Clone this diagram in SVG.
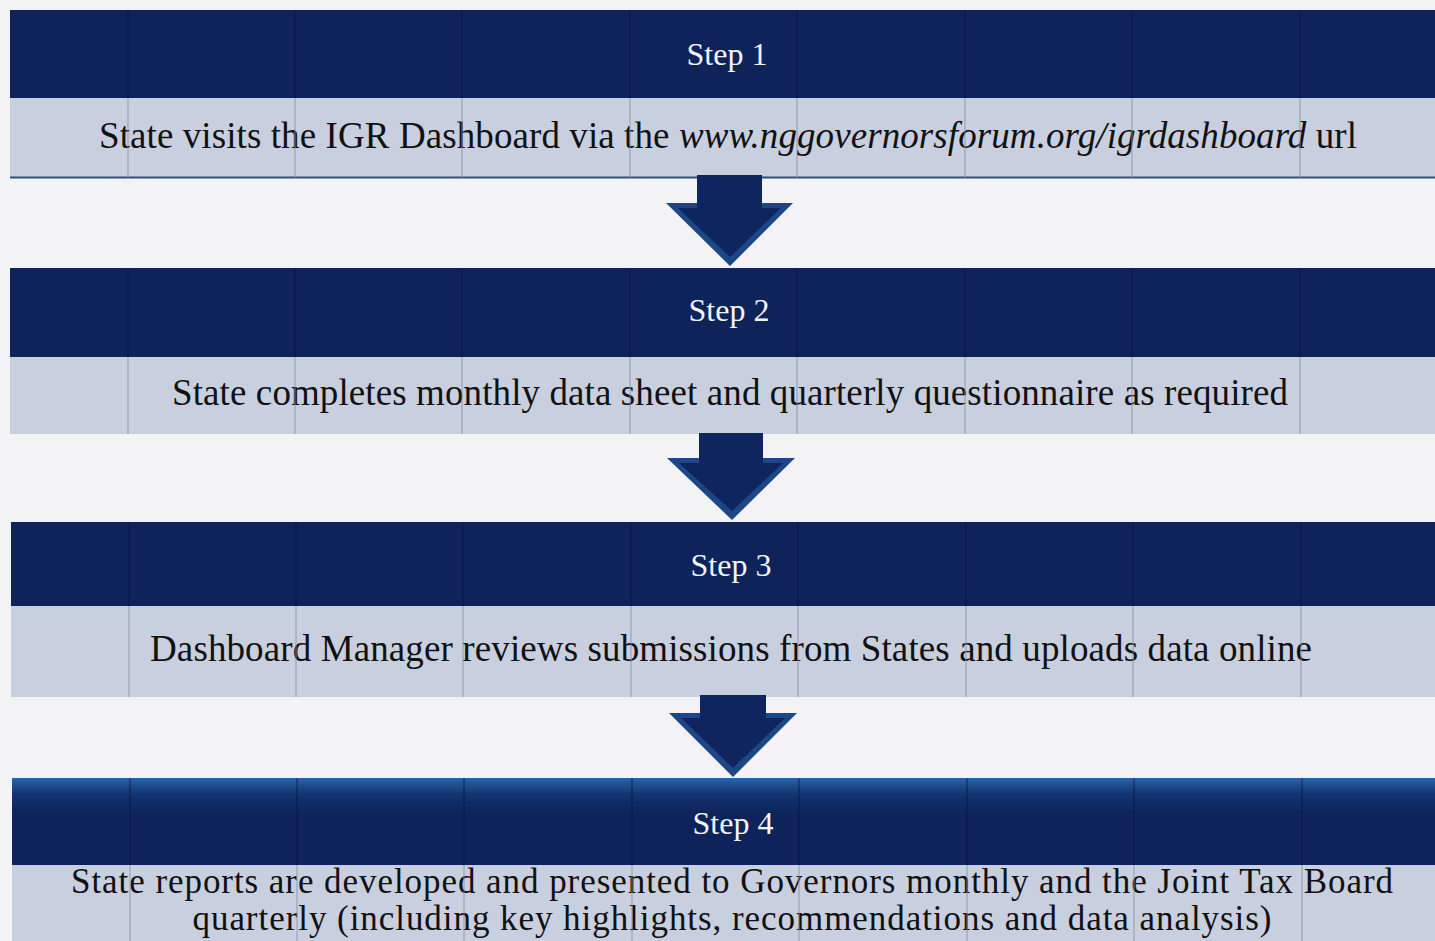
<svg xmlns="http://www.w3.org/2000/svg" width="1435" height="941" viewBox="0 0 1435 941">
<defs>
<style>
.dark{fill:#0f235b}
.light{fill:#c8cfde}
.step{font-family:"Liberation Serif","Times New Roman",serif;font-size:32px;fill:#f2f4fa;text-anchor:middle}
.body{font-family:"Liberation Serif","Times New Roman",serif;font-size:37px;fill:#111;text-anchor:middle}
.body4{font-family:"Liberation Serif","Times New Roman",serif;font-size:35px;fill:#111;text-anchor:middle}
.gridD{stroke:#081540;stroke-width:1.2;opacity:0.6}
.gridL{stroke:#8a91a6;stroke-width:1.2;opacity:0.7}
.arrowOuter{fill:#1d4686}
.arrowInner{fill:#0f2560}
</style>
<linearGradient id="topBevel" x1="0" y1="0" x2="0" y2="1">
<stop offset="0" stop-color="#2a64a6"/>
<stop offset="0.18" stop-color="#123572"/>
<stop offset="0.4" stop-color="#0f235b"/>
<stop offset="1" stop-color="#0f235b"/>
</linearGradient>
</defs>
<rect width="1435" height="941" fill="#f3f2f5"/>

<g id="step1">
<rect class="dark" x="10" y="10" width="1425" height="88"/>
<rect class="light" x="10" y="98" width="1425" height="80"/>
<rect x="10" y="176.5" width="1425" height="2" fill="#2c4f80"/>
<text class="step" x="727" y="65">Step 1</text>
<text class="body" x="728" y="148" textLength="1258" lengthAdjust="spacing">State visits the IGR Dashboard via the <tspan font-style="italic">www.nggovernorsforum.org/igrdashboard</tspan> url</text>
</g>

<g id="step2">
<rect class="dark" x="10" y="268" width="1425" height="89"/>
<rect class="light" x="10" y="357" width="1425" height="77"/>
<text class="step" x="729" y="321">Step 2</text>
<text class="body" x="730" y="405" textLength="1116" lengthAdjust="spacing">State completes monthly data sheet and quarterly questionnaire as required</text>
</g>

<g id="step3">
<rect class="dark" x="11" y="522" width="1424" height="84"/>
<rect class="light" x="11" y="606" width="1424" height="91"/>
<text class="step" x="731" y="576">Step 3</text>
<text class="body" x="731" y="661" textLength="1162" lengthAdjust="spacing">Dashboard Manager reviews submissions from States and uploads data online</text>
</g>

<g id="step4">
<rect x="12" y="778" width="1423" height="87" fill="url(#topBevel)"/>
<rect class="light" x="12" y="865" width="1423" height="76"/>
<text class="step" x="733" y="834">Step 4</text>
<text class="body4" x="732" y="893" textLength="1322" lengthAdjust="spacing">State reports are developed and presented to Governors monthly and the Joint Tax Board</text>
<text class="body4" x="732" y="930" textLength="1079" lengthAdjust="spacing">quarterly (including key highlights, recommendations and data analysis)</text>
</g>

<g id="grid">
<path class="gridD" d="M128 10V98M295 10V98M462 10V98M630 10V98M797 10V98M965 10V98M1132 10V98M1300 10V98"/>
<path class="gridL" d="M128 98V178M295 98V178M462 98V178M630 98V178M797 98V178M965 98V178M1132 98V178M1300 98V178"/>
<path class="gridD" d="M128 268V357M295 268V357M462 268V357M630 268V357M797 268V357M965 268V357M1132 268V357M1300 268V357"/>
<path class="gridL" d="M128 357V434M295 357V434M462 357V434M630 357V434M797 357V434M965 357V434M1132 357V434M1300 357V434"/>
<path class="gridD" d="M129 522V606M296 522V606M463 522V606M631 522V606M798 522V606M966 522V606M1133 522V606M1301 522V606"/>
<path class="gridL" d="M129 606V697M296 606V697M463 606V697M631 606V697M798 606V697M966 606V697M1133 606V697M1301 606V697"/>
<path class="gridD" d="M130 778V865M297 778V865M464 778V865M632 778V865M799 778V865M967 778V865M1134 778V865M1302 778V865"/>
<path class="gridL" d="M130 865V941M297 865V941M464 865V941M632 865V941M799 865V941M967 865V941M1134 865V941M1302 865V941"/>
</g>

<g id="connectors">
<polygon class="arrowOuter" points="697,175 762,175 762,203 793,203 730,266 666,203 697,203"/>
<polygon class="arrowInner" points="697,175 762,175 762,208 781,208 730,257 678,208 697,208"/>
<polygon class="arrowOuter" points="699,433 763,433 763,458 795,458 732,520 667,458 699,458"/>
<polygon class="arrowInner" points="699,433 763,433 763,463 783,463 732,511 679,463 699,463"/>
<polygon class="arrowOuter" points="700,695 766,695 766,713 797,713 733,777 669,713 700,713"/>
<polygon class="arrowInner" points="700,695 766,695 766,718 785,718 733,768 681,718 700,718"/>
</g>
</svg>
